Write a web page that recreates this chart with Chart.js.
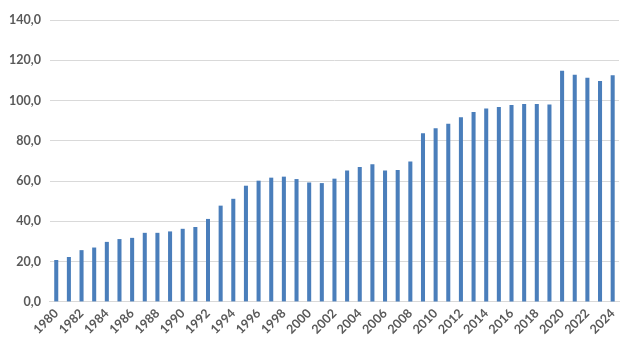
<!DOCTYPE html>
<html>
<head>
<meta charset="utf-8">
<script src="https://cdn.jsdelivr.net/npm/chart.js@4/dist/chart.umd.min.js"></script>
<style>
html,body{margin:0;padding:0;background:#fff;}
#wrap{width:636px;height:358px;}
</style>
</head>
<body>
<div id="wrap"><canvas id="c" width="636" height="358"></canvas></div>
<script>
const years = [];
for (let y = 1980; y <= 2024; y++) years.push(String(y));
const values = [
  20.8, 22.3, 25.7, 27.0, 29.8, 31.2, 31.8, 34.3, 34.3, 35.0,
  36.3, 37.2, 41.2, 47.8, 51.2, 57.7, 60.2, 61.7, 62.2, 61.0,
  59.3, 59.0, 61.2, 65.2, 67.0, 68.3, 65.2, 65.5, 69.7, 83.8,
  86.2, 88.5, 91.7, 94.3, 96.0, 96.8, 97.8, 98.3, 98.3, 98.0,
  114.8, 112.8, 111.3, 109.7, 112.5
];
const yTicks = [0, 20, 40, 60, 80, 100, 120, 140];

new Chart(document.getElementById('c'), {
  type: 'bar',
  data: {
    labels: years,
    datasets: [{
      data: values,
      backgroundColor: '#4a7ebb',
      borderWidth: 0,
      barPercentage: 0.64,
      categoryPercentage: 0.5
    }]
  },
  options: {
    responsive: false,
    animation: false,
    layout: { padding: { left: 0, right: 17, top: 20, bottom: 17 } },
    plugins: { legend: { display: false }, tooltip: { enabled: false } },
    scales: {
      x: {
        grid: { display: false, drawTicks: false },
        border: { display: true, color: '#d9d9d9', width: 1 },
        ticks: {
          autoSkip: false,
          minRotation: 45,
          maxRotation: 45,
          padding: 4,
          color: '#595959',
          font: { family: 'Lato', size: 12.5, weight: 'bold' },
          callback: function (v, i) { return i % 2 === 0 ? years[i] : ''; }
        }
      },
      y: {
        min: 0,
        max: 140,
        afterBuildTicks: function (axis) { axis.ticks = yTicks.map(v => ({ value: v })); },
        grid: { color: '#d9d9d9', drawTicks: false, lineWidth: 1 },
        border: { display: false },
        ticks: {
          padding: 9,
          color: '#595959',
          font: { family: 'Lato', size: 12.5, weight: 'bold' },
          callback: function (v) { return v.toFixed(1).replace('.', ','); }
        }
      }
    }
  }
});
</script>
</body>
</html>
